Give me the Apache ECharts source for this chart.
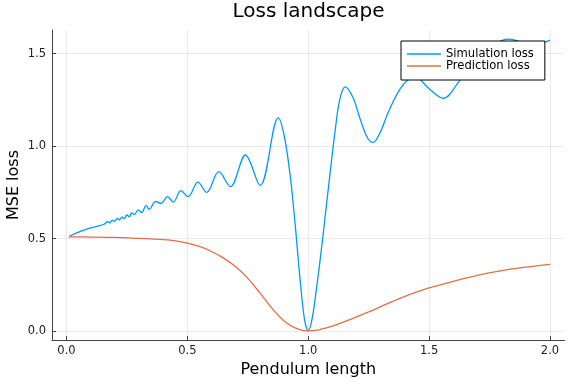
<!DOCTYPE html>
<html><head><meta charset="utf-8">
<script src="https://cdn.jsdelivr.net/npm/echarts@6/dist/echarts.min.js"></script>
<style>html,body{margin:0;padding:0;background:#fff}#c{width:576px;height:384px}</style>
</head><body><div id="c"></div>
<script>
const title = 'Loss landscape';
const xName = 'Pendulum length';
const yName = 'MSE loss';
const seriesNames = ['Simulation loss', 'Prediction loss'];
const xTicks = [0, 0.5, 1, 1.5, 2];
const yTicks = [0, 0.5, 1, 1.5];

const simX = [0.01,0.05,0.09,0.13,0.155,0.17,0.178,0.19,0.198,0.21,0.218,0.23,0.238,0.25,0.26,0.27,0.28,0.297,0.311,0.329,0.342,0.369,0.39,0.418,0.442,0.473,0.503,0.544,0.58,0.63,0.678,0.74,0.801,0.876,0.9,0.925,0.946,0.967,0.985,1.0,1.015,1.033,1.05,1.07,1.09,1.11,1.13,1.153,1.185,1.215,1.245,1.268,1.296,1.326,1.355,1.381,1.41,1.44,1.5,1.558,1.63,1.7,1.77,1.83,1.93,2.0];
const simY = [0.512,0.535,0.555,0.568,0.578,0.592,0.585,0.600,0.593,0.610,0.601,0.618,0.608,0.628,0.618,0.641,0.630,0.656,0.641,0.679,0.659,0.702,0.690,0.727,0.698,0.760,0.727,0.805,0.750,0.862,0.781,0.952,0.787,1.153,1.06,0.844,0.575,0.269,0.06,0.004,0.06,0.22,0.395,0.62,0.85,1.07,1.25,1.32,1.262,1.145,1.045,1.02,1.07,1.167,1.25,1.311,1.355,1.375,1.31,1.258,1.36,1.47,1.55,1.578,1.545,1.572];

const predX = [0.01,0.1,0.2,0.3,0.35,0.4,0.45,0.5,0.55,0.6,0.65,0.7,0.75,0.8,0.85,0.9,0.95,1.0,1.05,1.1,1.15,1.2,1.25,1.3,1.35,1.4,1.45,1.5,1.6,1.7,1.8,1.9,2.0];
const predY = [0.510,0.509,0.507,0.502,0.499,0.495,0.488,0.476,0.458,0.431,0.395,0.348,0.286,0.207,0.124,0.056,0.016,0.002,0.010,0.028,0.052,0.078,0.105,0.133,0.162,0.189,0.213,0.234,0.270,0.302,0.328,0.346,0.361];

const zip = (a, b) => a.map((v, i) => [v, b[i]]);
const font = 'DejaVu Sans';
const chart = echarts.init(document.getElementById('c'), null, {renderer: 'canvas'});
chart.setOption({
  animation: false,
  backgroundColor: '#fff',
  title: {text: title, left: 308.5, top: 1.5, padding: 0, textAlign: 'center',
    textStyle: {fontFamily: font, fontSize: 20, fontWeight: 'normal', color: '#000'}},
  grid: {left: 52, right: 11.5, top: 30, bottom: 44, containLabel: false, outerBoundsMode: 'none'},
  legend: {
    orient: 'vertical', left: 401, top: 41,
    padding: [7, 11, 8, 6], itemGap: 0, itemWidth: 34, itemHeight: 1.5, itemTextGap: 6,
    icon: 'rect', backgroundColor: '#fff', borderColor: '#000', borderWidth: 1,
    textStyle: {fontFamily: font, fontSize: 11.6, color: '#000', lineHeight: 12},
    data: seriesNames
  },
  xAxis: {
    type: 'value', min: -0.06, max: 2.06,
    name: xName, nameLocation: 'middle', nameGap: 22, nameMoveOverlap: false,
    nameTextStyle: {fontFamily: font, fontSize: 16, color: '#000'},
    axisLine: {show: true, onZero: false, lineStyle: {color: '#444', width: 1}},
    axisTick: {show: true, inside: true, length: 4, customValues: xTicks, lineStyle: {color: '#444'}},
    axisLabel: {customValues: xTicks, margin: 5, fontFamily: font, fontSize: 11.5, color: '#222',
      formatter: v => v.toFixed(1)},
    splitLine: {show: true, lineStyle: {color: 'rgba(0,0,0,0.08)', width: 1}}
  },
  yAxis: {
    type: 'value', min: -0.047, max: 1.627,
    name: yName, nameLocation: 'middle', nameGap: 30, nameRotate: 90, nameMoveOverlap: false,
    nameTextStyle: {fontFamily: font, fontSize: 16, color: '#000'},
    axisLine: {show: true, onZero: false, lineStyle: {color: '#444', width: 1}},
    axisTick: {show: true, inside: true, length: 4, customValues: yTicks, lineStyle: {color: '#444'}},
    axisLabel: {customValues: yTicks, margin: 6, fontFamily: font, fontSize: 11.5, color: '#222',
      formatter: v => v.toFixed(1)},
    splitLine: {show: true, lineStyle: {color: 'rgba(0,0,0,0.08)', width: 1}}
  },
  series: [
    {name: seriesNames[0], type: 'line', data: zip(simX, simY), showSymbol: false, symbol: 'none',
      smooth: 0.35, lineStyle: {color: '#009AFA', width: 1.3}, itemStyle: {color: '#009AFA'}},
    {name: seriesNames[1], type: 'line', data: zip(predX, predY), showSymbol: false, symbol: 'none',
      smooth: 0.4, lineStyle: {color: '#E36F47', width: 1.3}, itemStyle: {color: '#E36F47'}}
  ]
});
</script></body></html>
